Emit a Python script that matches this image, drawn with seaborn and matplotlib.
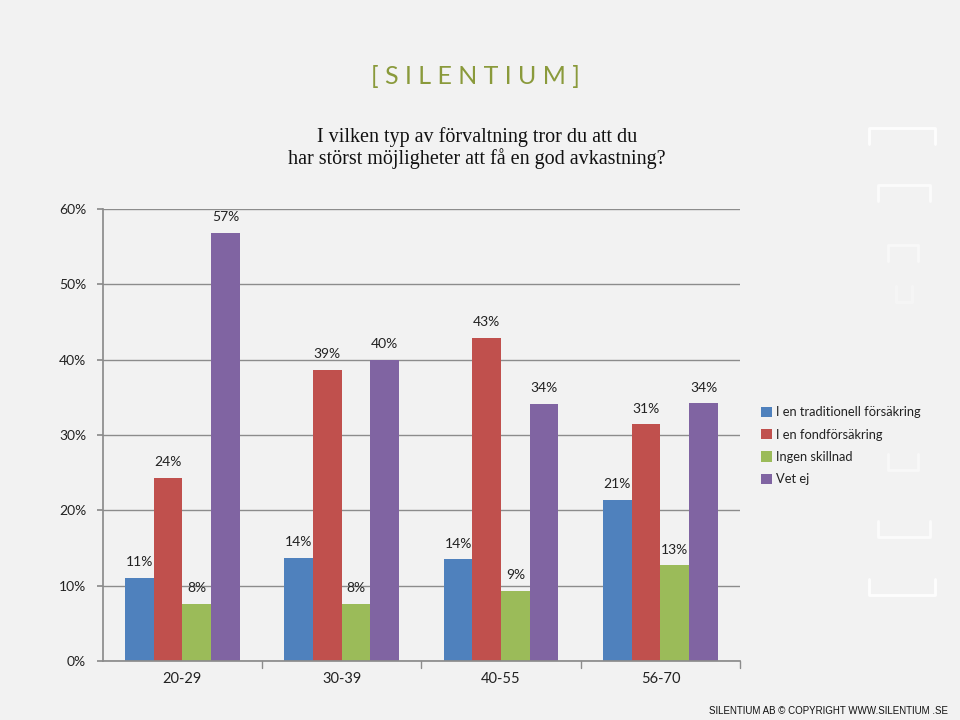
import pandas as pd
import matplotlib.pyplot as plt
import seaborn as sns
from matplotlib.lines import Line2D

# data
age_groups = ['20-29', '30-39', '40-55', '56-70']
answers = ['I en traditionell försäkring', 'I en fondförsäkring', 'Ingen skillnad', 'Vet ej']
traditionell = [11.0, 13.7, 13.5, 21.4]
fond = [24.3, 38.6, 42.9, 31.4]
ingen_skillnad = [7.6, 7.6, 9.3, 12.7]
vet_ej = [56.8, 40.0, 34.1, 34.2]
colors = ['#4F81BD', '#C0504D', '#9BBB59', '#8064A2']

title = 'I vilken typ av förvaltning tror du att du\nhar störst möjligheter att få en god avkastning?'
footer = 'SILENTIUM AB © COPYRIGHT WWW.SILENTIUM .SE'

rows = []
for name, vals in zip(answers, [traditionell, fond, ingen_skillnad, vet_ej]):
    for g, v in zip(age_groups, vals):
        rows.append({'age': g, 'svar': name, 'value': v})
df = pd.DataFrame(rows)

sns.set_theme(style='white')
plt.rcParams['font.family'] = ['Lato', 'DejaVu Sans']
bg = '#f2f2f2'

fig = plt.figure(figsize=(9.6, 7.2), dpi=100, facecolor=bg)
ax = fig.add_axes([0.107, 0.082, 0.664, 0.628])
ax.set_facecolor(bg)

sns.barplot(data=df, x='age', y='value', hue='svar', hue_order=answers,
            palette=colors, saturation=1, width=0.72, gap=0, linewidth=0,
            ax=ax, legend=True)

for c in ax.containers:
    ax.bar_label(c, labels=[f'{round(b.get_height())}%' for b in c],
                 padding=7, fontsize=10, color='#222222')

ax.set_ylim(0, 60)
ax.set_xlim(-0.5, 3.5)
ax.set_yticks(range(0, 61, 10))
ax.set_yticklabels([f'{t}%' for t in range(0, 61, 10)], fontsize=10, color='#222222')
ax.tick_params(axis='x', labelsize=10.5, colors='#222222', length=0, pad=8)
ax.yaxis.grid(True, color='#8c8c8c', linewidth=1)
ax.set_axisbelow(True)
ax.set_xlabel('')
ax.set_ylabel('')
for s in ['top', 'right']:
    ax.spines[s].set_visible(False)
for s in ['left', 'bottom']:
    ax.spines[s].set_color('#8c8c8c')
ax.tick_params(axis='y', left=True, length=4, color='#8c8c8c', pad=8)
# category separators on the x axis
for xb in [0.5, 1.5, 2.5, 3.5]:
    ax.plot([xb, xb], [0, -0.9], color='#8c8c8c', lw=1, clip_on=False)

leg = ax.legend(loc='center left', bbox_to_anchor=(1.015, 0.476), frameon=False,
                fontsize=9.3, handlelength=0.8, handleheight=0.85, handletextpad=0.35,
                labelspacing=0.8)
for t in leg.get_texts():
    t.set_color('#222222')

# logo and title
fig.text(0.495, 0.894, '[ S I L E N T I U M ]', ha='center', va='center',
         fontsize=18, color='#8a9a3b', family=['Lato', 'DejaVu Sans'])
fig.text(0.497, 0.794, title, ha='center', va='center', fontsize=14.5,
         color='#111111', family=['Liberation Serif', 'DejaVu Serif'], linespacing=1.05)
fig.text(0.988, 0.013, footer, ha='right', va='center', fontsize=7, color='#111111',
         family=['Liberation Sans', 'DejaVu Sans'])

# faint white brackets on the right side
brackets = [(869, 935, 128, 1, 0.9), (878, 930, 185, 1, 0.7), (888, 918, 245, 1, 0.5),
            (896, 912, 302, -1, 0.3), (888, 918, 470, -1, 0.5), (878, 930, 537, -1, 0.7),
            (869, 935, 595, -1, 0.9)]
for x0, x1, y, d, a in brackets:
    h = 16
    xs = [x0 / 960, x0 / 960, x1 / 960, x1 / 960]
    ys = [1 - (y + d * h) / 720, 1 - y / 720, 1 - y / 720, 1 - (y + d * h) / 720]
    fig.add_artist(Line2D(xs, ys, color='white', lw=2, alpha=a))

fig.savefig('out.png', dpi=100, facecolor=bg)
